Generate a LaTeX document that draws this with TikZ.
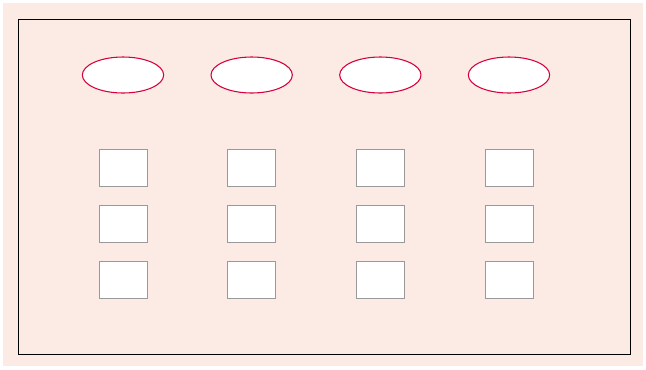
\documentclass[tikz,border=0pt]{standalone}
\usetikzlibrary{positioning,shapes.geometric}
\definecolor{bgPink}{HTML}{FBEBE4}
\definecolor{edRed}{HTML}{D5003C}
\definecolor{boxGray}{HTML}{999999}
\tikzset{
  head/.style ={ellipse,draw=edRed,line width=0.8pt,fill=white,inner sep=0pt,minimum width=61pt,minimum height=27pt},
  slot/.style ={rectangle,draw=boxGray,line width=0.75pt,fill=white,inner sep=0pt,minimum width=36pt,minimum height=27.5pt},
}

\begin{document}
\begin{tikzpicture}[x=0.75pt,y=-0.75pt,node distance=13.75pt]
  \useasboundingbox (0,0) rectangle (646,369);
  \fill[bgPink] (3,3) rectangle (643,366);
  \draw[line width=0.75pt] (18,19) rectangle (630,354);

  \node[head] (h1) at (123,75) {};
  \node[head,right=34.7pt of h1] (h2) {};
  \node[head,right=34.7pt of h2] (h3) {};
  \node[head,right=34.7pt of h3] (h4) {};

  \node[slot,below=41.75pt of h1] (a1) {};
  \node[slot,below=of a1] (a2) {};
  \node[slot,below=of a2] (a3) {};
  \node[slot,below=41.75pt of h2] (b1) {};
  \node[slot,below=of b1] (b2) {};
  \node[slot,below=of b2] (b3) {};
  \node[slot,below=41.75pt of h3] (c1) {};
  \node[slot,below=of c1] (c2) {};
  \node[slot,below=of c2] (c3) {};
  \node[slot,below=41.75pt of h4] (d1) {};
  \node[slot,below=of d1] (d2) {};
  \node[slot,below=of d2] (d3) {};
\end{tikzpicture}
\end{document}
